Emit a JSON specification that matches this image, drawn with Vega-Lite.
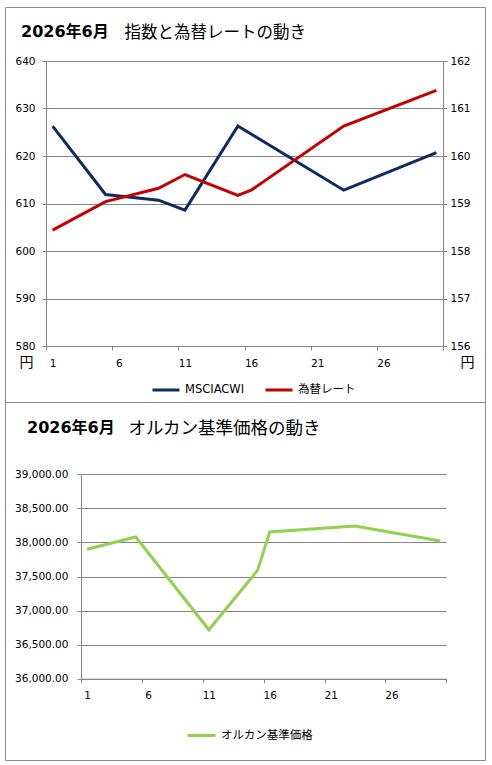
{
  "$schema": "https://vega.github.io/schema/vega-lite/v6.json",
  "padding": {"left": 4, "top": 6, "right": 0, "bottom": 0},
  "background": "white",
  "spacing": 0,
  "bounds": "flush",
  "config": {
    "view": {"stroke": "#8a8a8a", "strokeWidth": 1},
    "font": "DejaVu Sans, Noto Sans CJK JP",
    "axis": {
      "labelFont": "DejaVu Sans, Noto Sans CJK JP",
      "labelFontSize": 10.5,
      "labelColor": "#000000",
      "domainColor": "#868686",
      "tickColor": "#868686",
      "gridColor": "#868686",
      "tickSize": 4,
      "gridWidth": 1,
      "domainWidth": 1,
      "tickWidth": 1,
      "titleFont": "Noto Sans CJK JP",
      "titleColor": "#000000",
      "titleFontWeight": "normal",
      "labelOverlap": false,
      "labelBound": false,
      "labelFlush": false
    },
    "legend": {
      "labelFont": "DejaVu Sans, Noto Sans CJK JP",
      "labelFontSize": 11.5,
      "labelColor": "#000000"
    }
  },
  "resolve": {"scale": {"x": "independent", "y": "independent", "color": "independent"}},
  "datasets": {
    "index_fx": [
      {"day": 1, "series": "MSCIACWI", "value": 626.3},
      {"day": 5, "series": "MSCIACWI", "value": 611.9},
      {"day": 9, "series": "MSCIACWI", "value": 610.7},
      {"day": 11, "series": "MSCIACWI", "value": 608.6},
      {"day": 15, "series": "MSCIACWI", "value": 626.3},
      {"day": 23, "series": "MSCIACWI", "value": 612.8},
      {"day": 30, "series": "MSCIACWI", "value": 620.7},
      {"day": 1, "series": "為替レート", "value": 158.44},
      {"day": 5, "series": "為替レート", "value": 159.04},
      {"day": 9, "series": "為替レート", "value": 159.32},
      {"day": 11, "series": "為替レート", "value": 159.61},
      {"day": 15, "series": "為替レート", "value": 159.17},
      {"day": 16, "series": "為替レート", "value": 159.28},
      {"day": 23, "series": "為替レート", "value": 160.63},
      {"day": 30, "series": "為替レート", "value": 161.38}
    ],
    "fund": [
      {"day": 1, "fund": "オルカン基準価格", "price": 37899},
      {"day": 5, "fund": "オルカン基準価格", "price": 38080},
      {"day": 11, "fund": "オルカン基準価格", "price": 36718},
      {"day": 15, "fund": "オルカン基準価格", "price": 37590},
      {"day": 16, "fund": "オルカン基準価格", "price": 38153},
      {"day": 23, "fund": "オルカン基準価格", "price": 38241},
      {"day": 30, "fund": "オルカン基準価格", "price": 38021}
    ]
  },
  "vconcat": [
    {
      "width": 480,
      "height": 395,
      "data": {"name": "index_fx"},
      "title": {
        "text": "2026年6月",
        "anchor": "start",
        "frame": "group",
        "offset": -33,
        "dx": 16,
        "font": "DejaVu Sans, Noto Sans CJK JP",
        "fontSize": 16,
        "fontWeight": "bold",
        "color": "#000000"
      },
      "encoding": {
        "x": {
          "field": "day",
          "type": "quantitative",
          "scale": {"domain": [0.5, 30.5], "range": [41, 438], "nice": false, "zero": false},
          "axis": {
            "values": [0.5, 5.5, 10.5, 15.5, 20.5, 25.5, 30.5],
            "labelExpr": "datum.value < 30 ? format(datum.value + 0.5, 'd') : ''",
            "labelOffset": 6.6,
            "labelPadding": 8,
            "offset": -56,
            "grid": false,
            "title": "指数と為替レートの動き",
            "titleX": 119,
            "titleY": -314,
            "titleAlign": "left",
            "titleBaseline": "middle",
            "titleAngle": 0,
            "titleFontSize": 16.5
          }
        },
        "color": {
          "field": "series",
          "type": "nominal",
          "scale": {"domain": ["MSCIACWI", "為替レート"], "range": ["#0E2A5E", "#C00000"]},
          "legend": {
            "orient": "none",
            "legendX": 146,
            "legendY": 368,
            "direction": "horizontal",
            "title": null,
            "symbolType": "stroke",
            "symbolSize": 729,
            "symbolStrokeWidth": 3,
            "labelOffset": 4,
            "columnPadding": 14,
            "padding": 0
          }
        }
      },
      "layer": [
        {
          "transform": [{"filter": "datum.series === 'MSCIACWI'"}],
          "mark": {"type": "line", "strokeWidth": 3},
          "encoding": {
            "y": {
              "field": "value",
              "type": "quantitative",
              "scale": {"domain": [580, 640], "range": [339, 54], "nice": false, "zero": false},
              "axis": {
                "orient": "left",
                "offset": -41,
                "values": [580, 590, 600, 610, 620, 630, 640],
                "grid": true,
                "labelPadding": 7,
                "title": "円",
                "titleAngle": 0,
                "titleX": -20,
                "titleY": 355.5,
                "titleAlign": "center",
                "titleBaseline": "middle",
                "titleFontSize": 14
              }
            }
          }
        },
        {
          "transform": [{"filter": "datum.series === '為替レート'"}],
          "mark": {"type": "line", "strokeWidth": 3},
          "encoding": {
            "y": {
              "field": "value",
              "type": "quantitative",
              "scale": {"domain": [156, 162], "range": [339, 54], "nice": false, "zero": false},
              "axis": {
                "orient": "right",
                "offset": -42,
                "values": [156, 157, 158, 159, 160, 161, 162],
                "grid": false,
                "labelPadding": 3,
                "title": "円",
                "titleAngle": 0,
                "titleX": 24,
                "titleY": 355.5,
                "titleAlign": "center",
                "titleBaseline": "middle",
                "titleFontSize": 14
              }
            }
          }
        }
      ],
      "resolve": {"scale": {"y": "independent"}}
    },
    {
      "width": 480,
      "height": 358,
      "data": {"name": "fund"},
      "title": {
        "text": "2026年6月",
        "anchor": "start",
        "frame": "group",
        "offset": -34,
        "dx": 22,
        "font": "DejaVu Sans, Noto Sans CJK JP",
        "fontSize": 16,
        "fontWeight": "bold",
        "color": "#000000"
      },
      "mark": {"type": "line", "strokeWidth": 3},
      "encoding": {
        "x": {
          "field": "day",
          "type": "quantitative",
          "scale": {"domain": [0.5, 30.5], "range": [76, 441.3], "nice": false, "zero": false},
          "axis": {
            "values": [0.5, 5.5, 10.5, 15.5, 20.5, 25.5, 30.5],
            "labelExpr": "datum.value < 30 ? format(datum.value + 0.5, 'd') : ''",
            "labelOffset": 6.1,
            "labelPadding": 8,
            "offset": -81.3,
            "grid": false,
            "title": "オルカン基準価格の動き",
            "titleX": 123,
            "titleY": -250.7,
            "titleAlign": "left",
            "titleBaseline": "middle",
            "titleAngle": 0,
            "titleFontSize": 17.5
          }
        },
        "y": {
          "field": "price",
          "type": "quantitative",
          "scale": {"domain": [36000, 39000], "range": [276.7, 72.3], "nice": false, "zero": false},
          "axis": {
            "orient": "left",
            "offset": -76,
            "values": [36000, 36500, 37000, 37500, 38000, 38500, 39000],
            "format": ",.2f",
            "grid": true,
            "labelPadding": 9,
            "title": null
          }
        },
        "color": {
          "field": "fund",
          "type": "nominal",
          "scale": {"domain": ["オルカン基準価格"], "range": ["#92D050"]},
          "legend": {
            "orient": "none",
            "legendX": 181,
            "legendY": 318,
            "direction": "horizontal",
            "title": null,
            "symbolType": "stroke",
            "symbolSize": 784,
            "symbolStrokeWidth": 3,
            "labelOffset": 4,
            "padding": 0
          }
        }
      }
    }
  ]
}
